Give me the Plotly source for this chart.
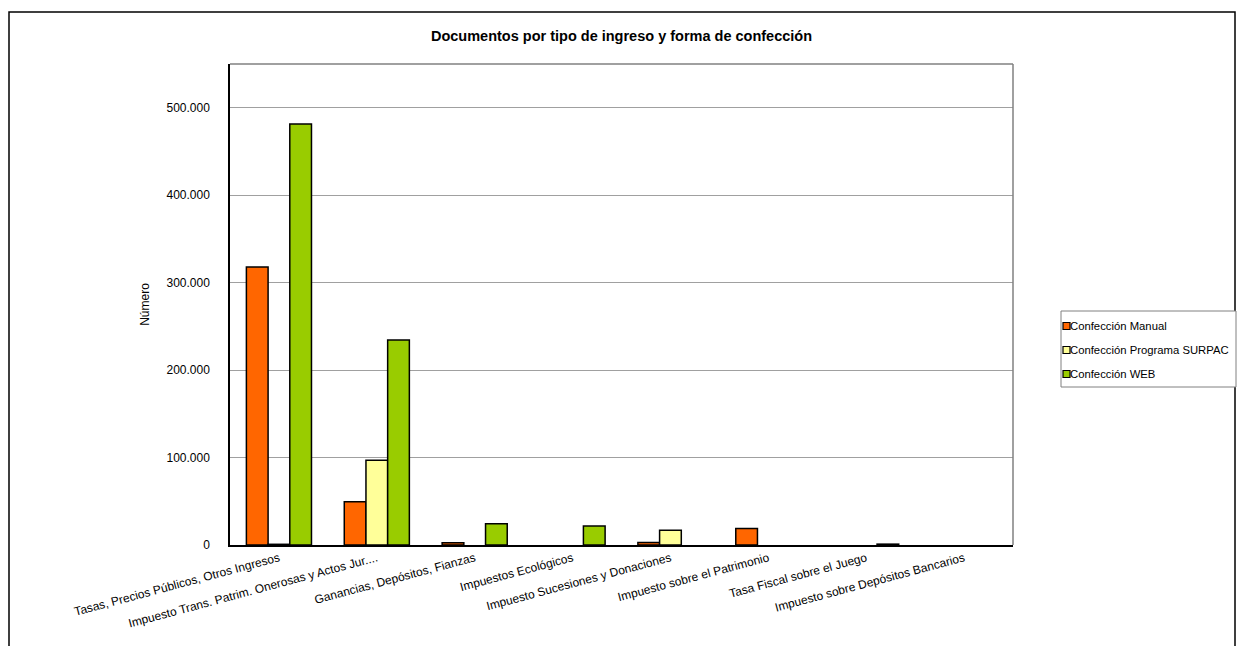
import plotly.graph_objects as go

categories = [
    "Tasas, Precios Públicos, Otros Ingresos",
    "Impuesto Trans. Patrim. Onerosas y Actos Jur....",
    "Ganancias, Depósitos, Fianzas",
    "Impuestos Ecológicos",
    "Impuesto Sucesiones y Donaciones",
    "Impuesto sobre el Patrimonio",
    "Tasa Fiscal sobre el Juego",
    "Impuesto sobre Depósitos Bancarios",
]
manual = [318000, 49500, 2600, None, 2800, 19000, None, None]
surpac = [800, 97000, None, None, 16800, None, None, None]
web = [481500, 234500, 24300, 21700, None, None, 1000, None]

series_names = ["Confección Manual", "Confección Programa SURPAC", "Confección WEB"]
series_values = [manual, surpac, web]
colors = ["#FF6600", "#FFFF99", "#99CC00"]

# plot area geometry in page pixels
W, H = 1238, 646
L, R, T, B = 230, 1013, 64, 545
pw, ph = R - L, B - T


def px_x(x):
    return (x - L) / pw


def px_y(y):
    return (B - y) / ph


fig = go.Figure()
for name, vals, col in zip(series_names, series_values, colors):
    fig.add_trace(go.Bar(
        x=categories, y=vals, name=name, showlegend=False,
        marker=dict(color=col, line=dict(color="#000000", width=1.5)),
    ))

font_main = "Liberation Sans, Arial, sans-serif"

fig.update_layout(
    width=W, height=H,
    margin=dict(l=L, r=W - R, t=T, b=H - B, autoexpand=False),
    paper_bgcolor="white", plot_bgcolor="white",
    barmode="group", bargap=0.335, bargroupgap=0,
    separators=",.",
    font=dict(family=font_main, size=12, color="#000000"),
    title=dict(text="<b>Documentos por tipo de ingreso y forma de confección</b>",
               x=0.5, xref="paper", xanchor="center",
               y=1 - 36 / H, yanchor="middle",
               font=dict(family=font_main, size=14.5, color="#000000")),
    showlegend=False,
    xaxis=dict(tickangle=-15, showgrid=False, showline=True, linecolor="#000000",
               linewidth=1.5, ticks="", tickfont=dict(size=12), automargin=False),
    yaxis=dict(range=[0, 550000], dtick=100000, tickformat=",d",
               showgrid=True, gridcolor="#A0A0A0", gridwidth=1,
               showline=True, linecolor="#000000", linewidth=1.5,
               ticks="", ticklabelstandoff=16, zeroline=False,
               title=dict(text="Número", standoff=14, font=dict(size=12)),
               automargin=False),
)

shapes = [
    # plot area top and right borders (gray)
    dict(type="line", xref="paper", yref="paper", x0=0, x1=1, y0=1, y1=1,
         line=dict(color="#808080", width=1.5)),
    dict(type="line", xref="paper", yref="paper", x0=1, x1=1, y0=0, y1=1,
         line=dict(color="#808080", width=1.5)),
    # outer chart frame
    dict(type="rect", xref="paper", yref="paper",
         x0=px_x(9), x1=px_x(1235), y0=px_y(660), y1=px_y(12),
         line=dict(color="#000000", width=1.5), layer="below"),
    # legend box
    dict(type="rect", xref="paper", yref="paper",
         x0=px_x(1061), x1=px_x(1236), y0=px_y(387), y1=px_y(311),
         line=dict(color="#808080", width=1), fillcolor="white", layer="below"),
]
annotations = []
legend_rows = [326, 350, 374]
for name, col, yc in zip(series_names, colors, legend_rows):
    shapes.append(dict(type="rect", xref="paper", yref="paper",
                       x0=px_x(1063), x1=px_x(1070), y0=px_y(yc + 3.5), y1=px_y(yc - 3.5),
                       fillcolor=col, line=dict(color="#000000", width=1.2)))
    annotations.append(dict(text=name, xref="paper", yref="paper",
                            x=px_x(1069), y=px_y(yc), xanchor="left", yanchor="middle",
                            showarrow=False, borderpad=0,
                            font=dict(family=font_main, size=11.3, color="#000000")))
fig.update_layout(shapes=shapes, annotations=annotations)

fig.write_html(
    "out.html",
    config={"displayModeBar": False},
    post_script="document.body.style.margin='0';document.body.style.overflow='hidden';",
)
